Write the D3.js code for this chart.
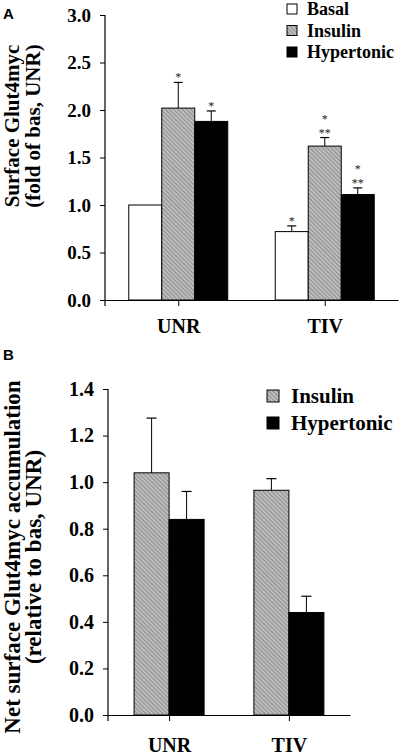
<!DOCTYPE html>
<html>
<head>
<meta charset="utf-8">
<script src="https://cdn.jsdelivr.net/npm/d3@7"></script>
<style>
  html, body { margin: 0; padding: 0; background: #fff; }
  svg { display: block; }
  text { font-family: "Liberation Serif", "Times New Roman", serif; font-weight: bold; fill: #000; }
</style>
</head>
<body>
<script>
// ---------- Data ----------
const categories = ["UNR", "TIV"];

// Panel A
const seriesA = ["Basal", "Insulin", "Hypertonic"];
const valuesA = {
  Basal:      [1.00, 0.72],
  Insulin:    [2.02, 1.62],
  Hypertonic: [1.88, 1.11]
};
const errorsA = {
  Basal:      [0.00, 0.06],
  Insulin:    [0.27, 0.09],
  Hypertonic: [0.11, 0.07]
};
const starsA = {
  Basal:      [[], ["*"]],
  Insulin:    [["*"], ["*", "**"]],
  Hypertonic: [["*"], ["*", "**"]]
};
const ticksA = [0, 0.5, 1.0, 1.5, 2.0, 2.5, 3.0];
const titleA = ["Surface Glut4myc", "(fold of bas, UNR)"];

// Panel B
const seriesB = ["Insulin", "Hypertonic"];
const valuesB = {
  Insulin:    [1.04, 0.965],
  Hypertonic: [0.84, 0.44]
};
const errorsB = {
  Insulin:    [0.235, 0.05],
  Hypertonic: [0.12, 0.07]
};
const ticksB = [0, 0.2, 0.4, 0.6, 0.8, 1.0, 1.2, 1.4];
const titleB = ["Net surface Glut4myc accumulation", "(relative to bas, UNR)"];

// ---------- Drawing ----------
const W = 400, H = 755;
const svg = d3.select("body").append("svg").attr("width", W).attr("height", H);

const defs = svg.append("defs");
const pat = defs.append("pattern")
  .attr("id", "hatch").attr("patternUnits", "userSpaceOnUse")
  .attr("width", 3).attr("height", 3)
  .attr("patternTransform", "rotate(-45)");
pat.append("rect").attr("width", 3).attr("height", 3).attr("fill", "#bdbdbd");
pat.append("line").attr("x1", 0).attr("y1", 0).attr("x2", 0).attr("y2", 3)
  .attr("stroke", "#6e6e6e").attr("stroke-width", 1.2);

const fills = { Basal: "#ffffff", Insulin: "url(#hatch)", Hypertonic: "#000000" };

function panel(cfg) {
  const g = svg.append("g");
  const y = d3.scaleLinear().domain(cfg.yDomain).range([cfg.y0, cfg.y1]);
  const x = d3.scalePoint().domain(categories).range([cfg.xStart, cfg.xEnd]).padding(cfg.pad);
  const inner = d3.scaleBand().domain(cfg.series)
    .range([-cfg.barW * cfg.series.length / 2, cfg.barW * cfg.series.length / 2]);

  // bars
  cfg.series.forEach(s => {
    categories.forEach((c, i) => {
      const v = cfg.values[s][i];
      const e = cfg.errors[s][i];
      const bx = x(c) + inner(s);
      g.append("rect")
        .attr("x", bx).attr("y", y(v))
        .attr("width", inner.bandwidth()).attr("height", y(0) - y(v))
        .attr("fill", fills[s]).attr("stroke", "#000").attr("stroke-width", 1);
      if (e > 0) {
        const cx = bx + inner.bandwidth() / 2;
        g.append("line").attr("x1", cx).attr("x2", cx).attr("y1", y(v)).attr("y2", y(v + e))
          .attr("stroke", "#000").attr("stroke-width", 1);
        g.append("line").attr("x1", cx - cfg.capW / 2).attr("x2", cx + cfg.capW / 2)
          .attr("y1", y(v + e)).attr("y2", y(v + e))
          .attr("stroke", "#000").attr("stroke-width", 1.2);
      }
      if (cfg.stars) {
        const lines = cfg.stars[s][i];
        const n = lines.length;
        const cx = bx + inner.bandwidth() / 2;
        lines.forEach((ln, k) => {
          g.append("text")
            .attr("x", cx)
            .attr("y", y(v + e) - 1 - (n - 1 - k) * 14)
            .attr("text-anchor", "middle")
            .style("font-size", "12px").style("font-weight", "normal")
            .style("fill", "#222")
            .text(ln);
        });
      }
    });
  });

  // y axis
  const ya = g.append("g").attr("transform", `translate(${cfg.xStart},0)`)
    .call(d3.axisLeft(y).tickValues(cfg.ticks).tickFormat(d3.format(".1f")).tickSize(5).tickPadding(9));
  ya.select(".domain").remove();
  ya.selectAll(".tick line").attr("stroke", "#000").attr("stroke-width", 1);
  ya.selectAll(".tick text").style("font-size", cfg.tickFont + "px")
    .attr("font-family", null).attr("fill", null);
  g.append("line").attr("x1", cfg.xStart).attr("x2", cfg.xStart)
    .attr("y1", cfg.y1).attr("y2", cfg.y0 + 6).attr("stroke", "#000").attr("stroke-width", 1.2);

  // x axis
  const xa = g.append("g").attr("transform", `translate(0,${cfg.y0})`)
    .call(d3.axisBottom(x).tickSize(6).tickSizeOuter(0));
  xa.select(".domain").attr("stroke", "#000").attr("stroke-width", 1.2);
  xa.selectAll(".tick line").attr("stroke", "#000");
  xa.selectAll(".tick text").style("font-size", cfg.xFont + "px")
    .attr("font-family", null).attr("fill", null)
    .attr("y", cfg.xLabelOff).attr("dy", 0);

  // y title
  cfg.title.forEach((t, k) => {
    g.append("text")
      .attr("transform", `translate(${cfg.titleX[k]},${cfg.titleY}) rotate(-90)`)
      .attr("text-anchor", "middle")
      .style("font-size", cfg.titleFont + "px")
      .text(t);
  });

  // legend
  cfg.series.forEach((s, k) => {
    const ly = cfg.legY + k * cfg.legStep;
    g.append("rect").attr("x", cfg.legX).attr("y", ly - cfg.legBox)
      .attr("width", cfg.legBox).attr("height", cfg.legBox)
      .attr("fill", fills[s]).attr("stroke", "#000").attr("stroke-width", 1);
    g.append("text").attr("x", cfg.legX + cfg.legTextOff).attr("y", ly + 1)
      .style("font-size", cfg.legFont + "px").text(s);
  });

  // panel letter
  g.append("text").attr("x", 3).attr("y", cfg.letterY)
    .style("font-family", "'Liberation Sans', Arial, sans-serif")
    .style("font-size", "15px").text(cfg.letter);
}

panel({
  letter: "A", letterY: 19,
  series: seriesA, values: valuesA, errors: errorsA, stars: starsA, ticks: ticksA,
  yDomain: [0, 3], y0: 300, y1: 15,
  xStart: 105, xEnd: 398, pad: 0.5, barW: 33, capW: 9,
  tickFont: 19, xFont: 20, xLabelOff: 33,
  title: titleA, titleX: [19, 40], titleY: 126, titleFont: 21,
  legX: 287, legY: 14, legStep: 21.5, legBox: 10, legTextOff: 20, legFont: 18
});

panel({
  letter: "B", letterY: 360,
  series: seriesB, values: valuesB, errors: errorsB, stars: null, ticks: ticksB,
  yDomain: [0, 1.4], y0: 715, y1: 389,
  xStart: 108, xEnd: 350, pad: 0.51, barW: 35, capW: 10,
  tickFont: 20, xFont: 20, xLabelOff: 37,
  title: titleB, titleX: [20, 41], titleY: 557, titleFont: 23,
  legX: 267, legY: 402, legStep: 27, legBox: 12, legTextOff: 24, legFont: 21
});
</script>
</body>
</html>
